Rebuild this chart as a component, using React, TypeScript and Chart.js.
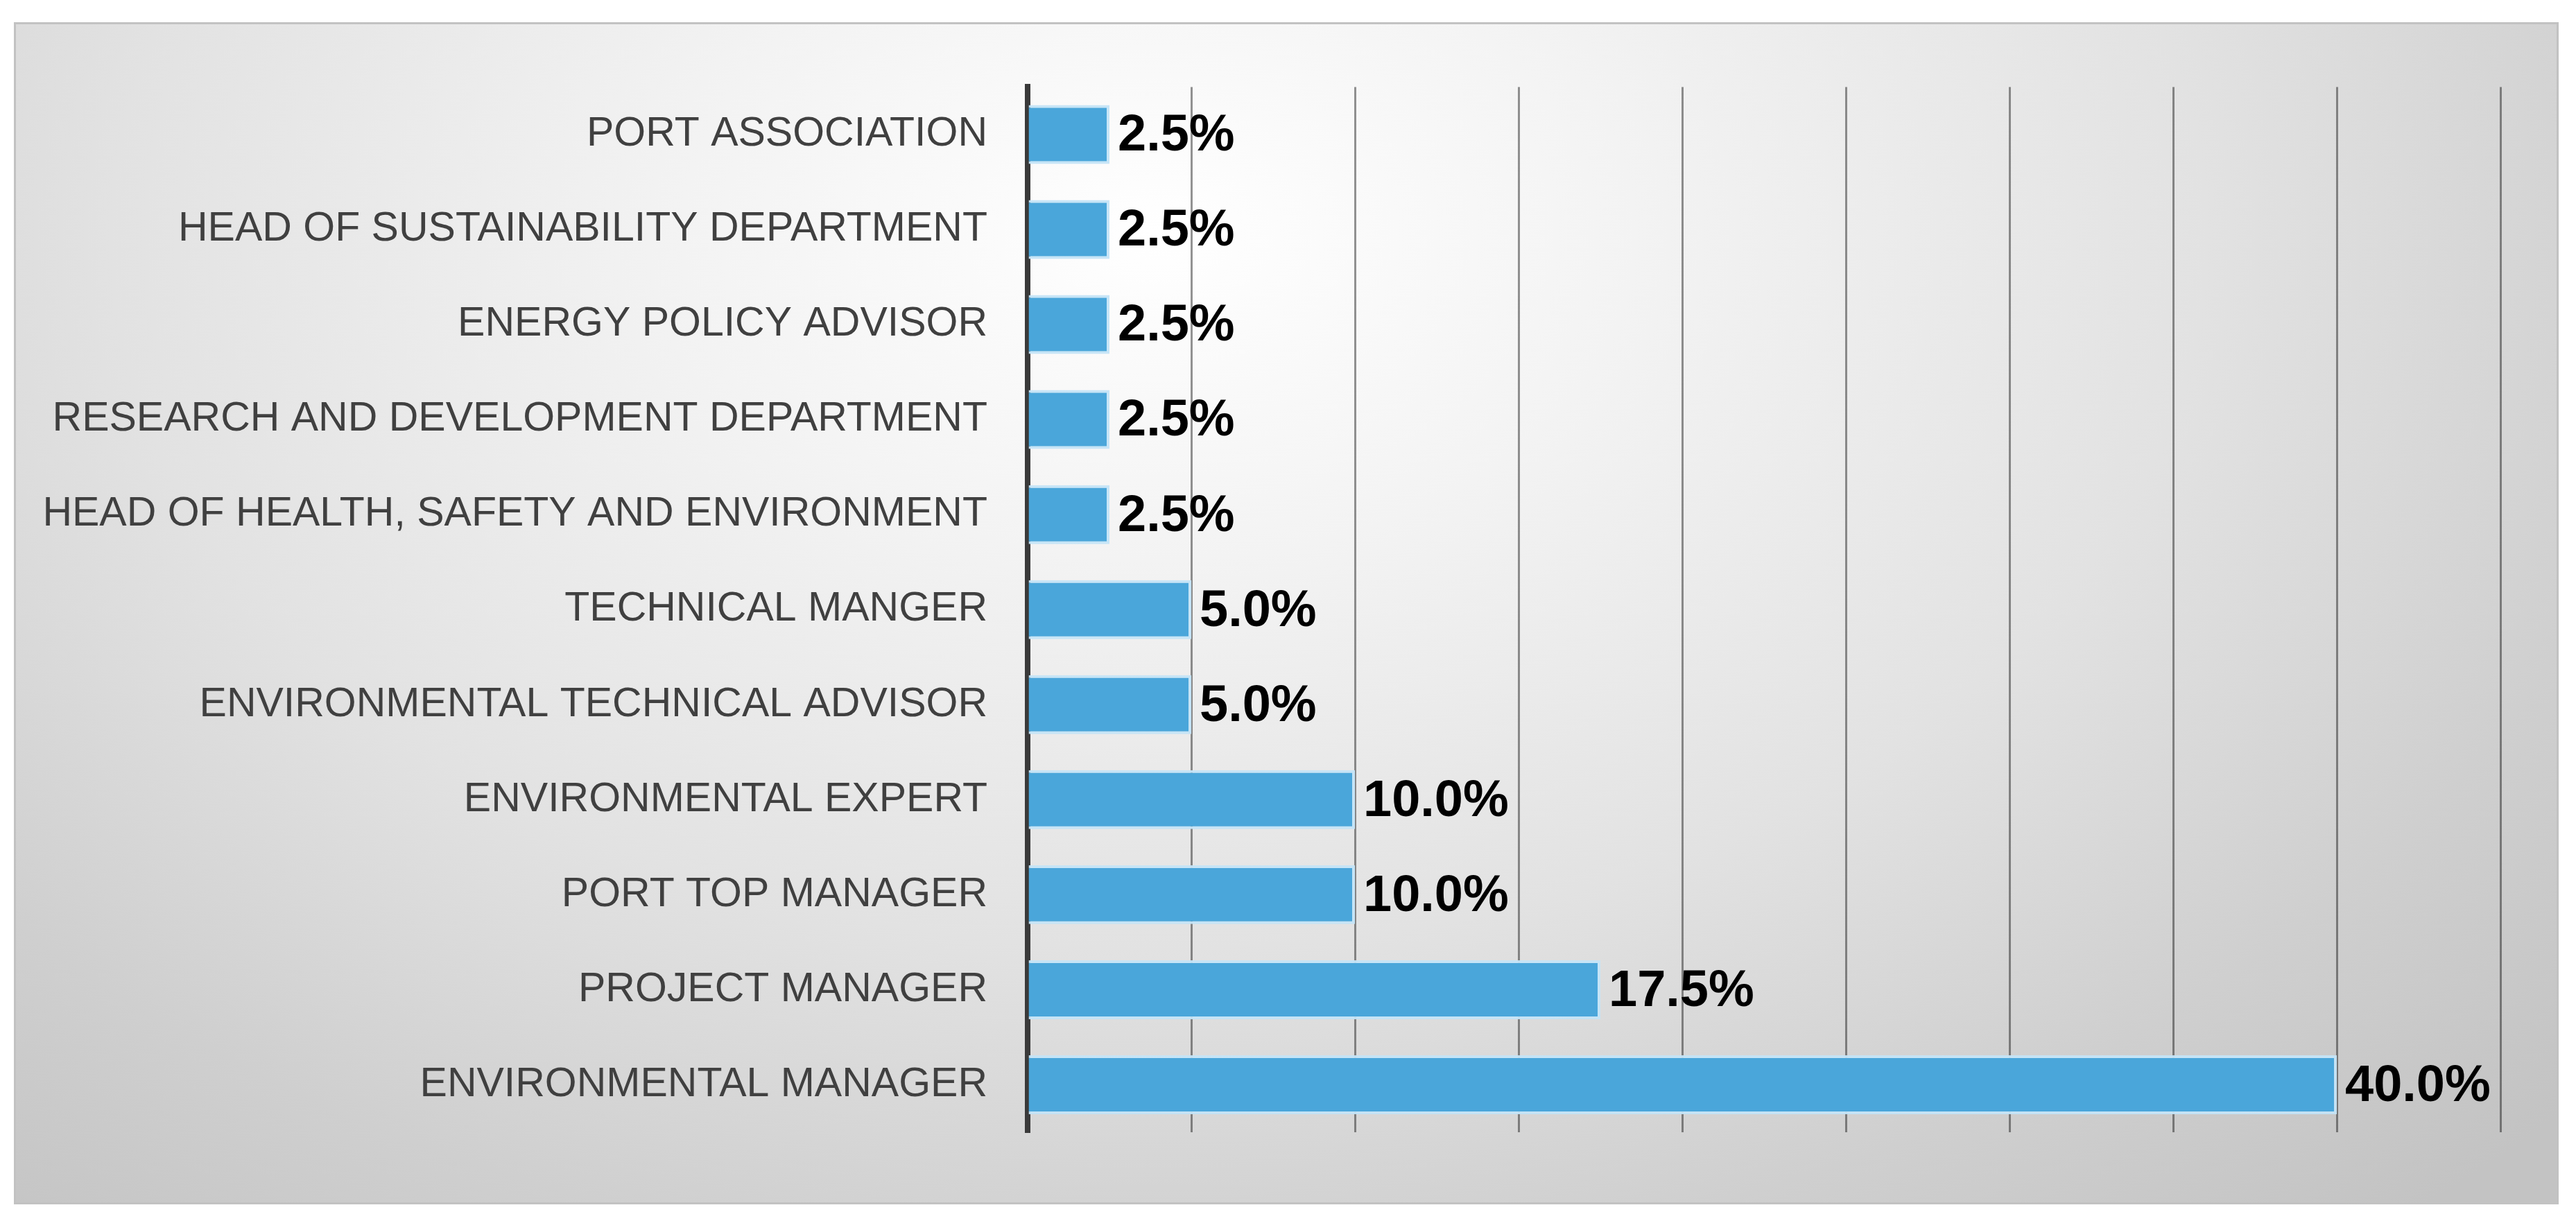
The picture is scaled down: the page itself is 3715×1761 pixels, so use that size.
import React, { useEffect, useRef } from 'react';
import Chart from 'chart.js/auto';

// job titles of the respondents, top to bottom as in the figure
const roles = [
  'PORT ASSOCIATION',
  'HEAD OF SUSTAINABILITY DEPARTMENT',
  'ENERGY POLICY ADVISOR',
  'RESEARCH AND DEVELOPMENT DEPARTMENT',
  'HEAD OF HEALTH, SAFETY AND ENVIRONMENT',
  'TECHNICAL MANGER',
  'ENVIRONMENTAL TECHNICAL ADVISOR',
  'ENVIRONMENTAL EXPERT',
  'PORT TOP MANAGER',
  'PROJECT MANAGER',
  'ENVIRONMENTAL MANAGER',
];

// share of respondents, %
const shares = [2.5, 2.5, 2.5, 2.5, 2.5, 5.0, 5.0, 10.0, 10.0, 17.5, 40.0];

const axisMin = 0;
const axisMax = 45;
const axisStep = 5;

const labelFont = '"Liberation Sans", Arial, sans-serif';

const valueLabels = {
  id: 'valueLabels',
  afterDraw(chart: Chart) {
    const { ctx } = chart;
    const meta = chart.getDatasetMeta(0);
    ctx.save();
    ctx.font = `bold 74px ${labelFont}`;
    ctx.fillStyle = '#000000';
    ctx.textAlign = 'left';
    ctx.textBaseline = 'middle';
    meta.data.forEach((bar: any, i: number) => {
      ctx.fillText(shares[i].toFixed(1) + '%', bar.x + 12, bar.y + 3);
    });
    ctx.restore();
  },
};

function RoleChart() {
  const canvasRef = useRef<HTMLCanvasElement>(null);
  const chartRef = useRef<Chart | null>(null);

  useEffect(() => {
    if (!canvasRef.current) return;
    if (chartRef.current) chartRef.current.destroy();

    chartRef.current = new Chart(canvasRef.current, {
      type: 'bar',
      data: {
        labels: roles,
        datasets: [
          {
            data: shares,
            backgroundColor: '#4aa6da',
            borderColor: 'rgba(196, 228, 247, 0.95)',
            borderWidth: 4,
            borderSkipped: 'left',
            categoryPercentage: 1,
            barPercentage: 0.62,
          },
        ],
      },
      options: {
        indexAxis: 'y',
        animation: false,
        responsive: true,
        maintainAspectRatio: false,
        devicePixelRatio: 1,
        layout: { padding: { left: 0, right: 84, top: 86, bottom: 104 } },
        plugins: {
          legend: { display: false },
          tooltip: { enabled: false },
        },
        scales: {
          x: {
            min: axisMin,
            max: axisMax,
            z: 1,
            ticks: { display: false, stepSize: axisStep },
            grid: { color: 'rgba(0, 0, 0, 0.42)', lineWidth: 3, drawTicks: false },
            border: { display: false },
          },
          y: {
            z: 1,
            afterFit: (scale: any) => {
              scale.width = 1462;
            },
            ticks: {
              color: '#404040',
              padding: 58,
              font: { family: labelFont, size: 59 },
            },
            grid: { display: false, drawTicks: false },
            border: { display: true, color: '#3a3a3a', width: 8 },
          },
        },
      },
      plugins: [valueLabels],
    });

    return () => {
      if (chartRef.current) {
        chartRef.current.destroy();
        chartRef.current = null;
      }
    };
  }, []);

  return <canvas ref={canvasRef}></canvas>;
}

export default function App() {
  return (
    <div style={{ position: 'fixed', left: 0, top: 0, width: 3715, height: 1761, background: '#ffffff' }}>
      <div
        style={{
          position: 'absolute',
          left: 20,
          top: 32,
          width: 3670,
          height: 1705,
          boxSizing: 'border-box',
          border: '3px solid #c2c2c2',
          background:
            'radial-gradient(ellipse 75% 110% at 45% 18%, #ffffff 0%, #f3f3f3 25%, #e2e2e2 55%, #cfcfcf 80%, #c3c3c3 100%)',
        }}
      >
        <div style={{ position: 'absolute', left: -3, top: -3, width: 3670, height: 1705 }}>
          <RoleChart />
        </div>
      </div>
    </div>
  );
}
